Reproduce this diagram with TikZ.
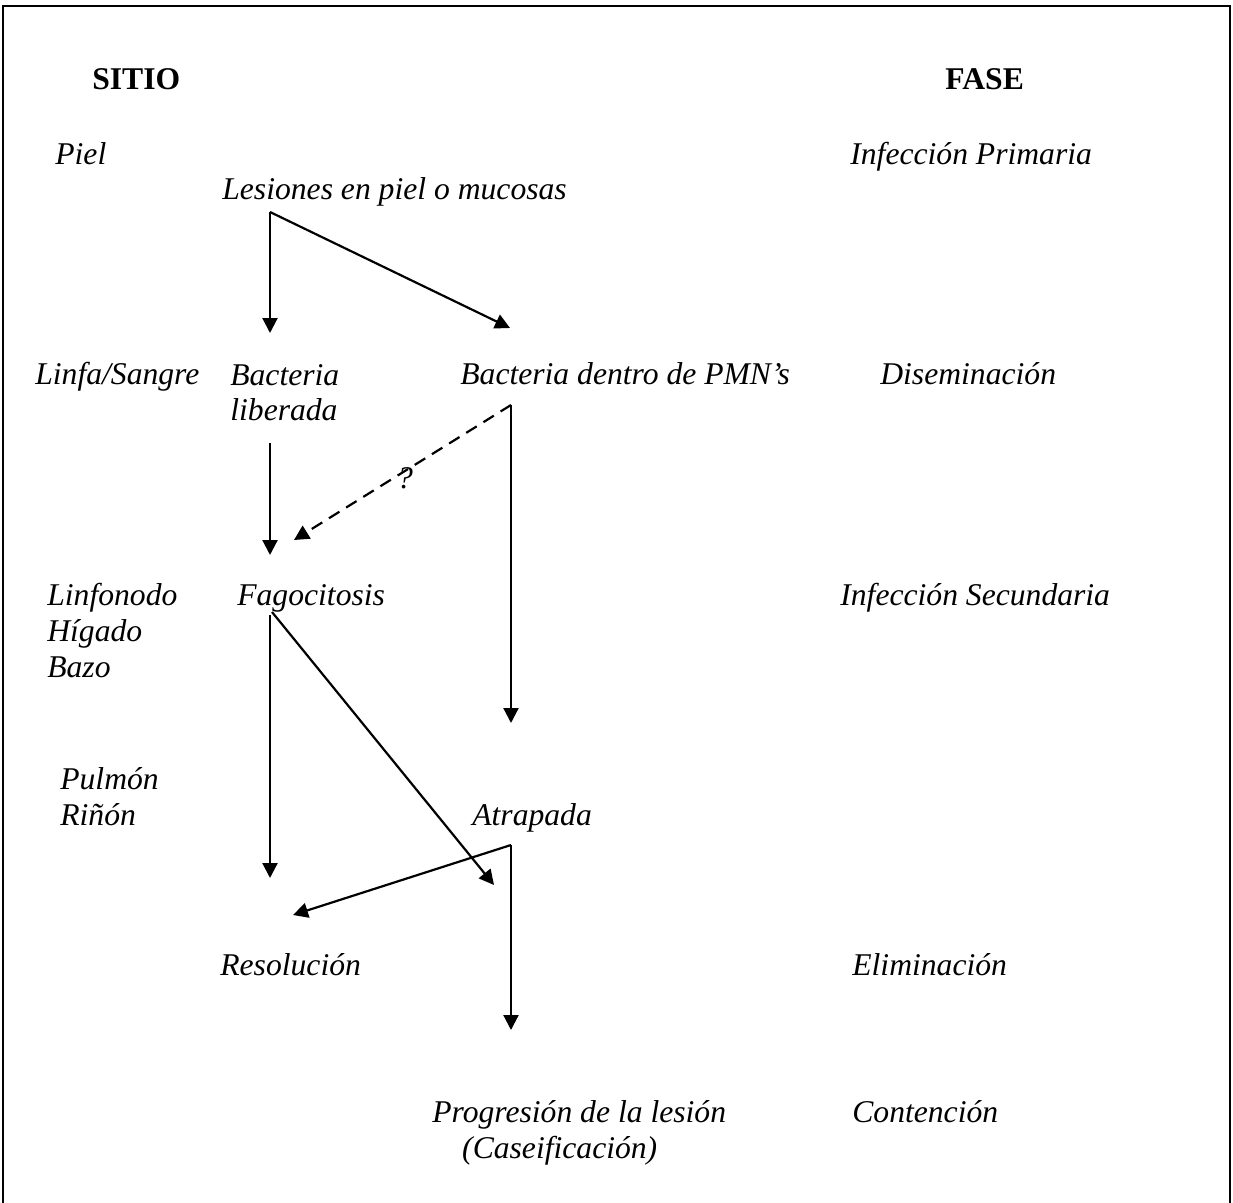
\documentclass[tikz,border=0pt]{standalone}
\usepackage{fontspec}
\setmainfont{Liberation Serif}
\usetikzlibrary{arrows.meta}

\begin{document}
\begin{tikzpicture}[x=0.2mm,y=-0.2mm,>={Triangle[length=8.5pt,width=8.5pt]},
  txt/.style={anchor=base west,inner sep=0pt,align=left,
    font=\fontsize{18pt}{20.4pt}\selectfont\itshape},
  head/.style={anchor=base west,inner sep=0pt,
    font=\fontsize{18pt}{20.4pt}\selectfont\bfseries},
  flecha/.style={->,line width=1.25pt}]
\useasboundingbox (0,0) rectangle (1233,1203);
\draw[line width=1.4pt] (3,1203) -- (3,6) -- (1230,6) -- (1230,1203);

% columnas
\node[head] (sitio) at (92,90) {SITIO};
\node[head] (fase) at (945,90) {FASE};

\node[txt] (piel) at (55,165) {Piel};
\node[txt] (primaria) at (850,165) {Infección Primaria};
\node[txt] (lesiones) at (222,200) {Lesiones en piel o mucosas};

% varias lineas: la base es la de la ultima linea
\node[txt] (linfa) at (35,385) {Linfa/Sangre};
\node[txt] (liberada) at (230,421) {Bacteria\\liberada};
\node[txt] (pmn) at (460,385) {Bacteria dentro de PMN’s};
\node[txt] (diseminacion) at (880,385) {Diseminación};
\node[txt,anchor=center] (duda) at (405,478) {?};

\node[txt] (ganglios) at (47,677) {Linfonodo\\Hígado\\Bazo};
\node[txt] (fagocitosis) at (237,605) {Fagocitosis};
\node[txt] (secundaria) at (840,605) {Infección Secundaria};

\node[txt] (organos) at (60,825) {Pulmón\\Riñón};
\node[txt] (atrapada) at (472,825) {Atrapada};

\node[txt] (resolucion) at (220,975) {Resolución};
\node[txt] (eliminacion) at (852,975) {Eliminación};

\node[txt] (progresion) at (432,1158) {Progresión de la lesión\\\hspace*{17pt}(Caseificación)};
\node[txt] (contencion) at (852,1122) {Contención};

% puntos de los conectores
\coordinate (lesOut) at (270,212);
\coordinate (libIn) at (270,333);
\coordinate (pmnIn) at (510,328);
\coordinate (libOut) at (270,443);
\coordinate (fagIn) at (270,555);
\coordinate (pmnOut) at (511,405);
\coordinate (fagIn2) at (294,540);
\coordinate (atrIn) at (511,723);
\coordinate (fagOut) at (270,615);
\coordinate (fagOut2) at (272,612);
\coordinate (resIn) at (270,878);
\coordinate (progIn) at (494,885);
\coordinate (atrOut) at (511,845);
\coordinate (resIn2) at (293,915);
\coordinate (progIn2) at (511,1030);

\draw[flecha] (lesOut) -- (libIn);
\draw[flecha] (lesOut) -- (pmnIn);
\draw[flecha] (libOut) -- (fagIn);
\draw[flecha,dash pattern=on 7pt off 4.5pt] (pmnOut) -- (fagIn2);
\draw[flecha] (pmnOut) -- (atrIn);
\draw[flecha] (fagOut) -- (resIn);
\draw[flecha] (fagOut2) -- (progIn);
\draw[flecha] (atrOut) -- (resIn2);
\draw[flecha] (atrOut) -- (progIn2);
\end{tikzpicture}
\end{document}
